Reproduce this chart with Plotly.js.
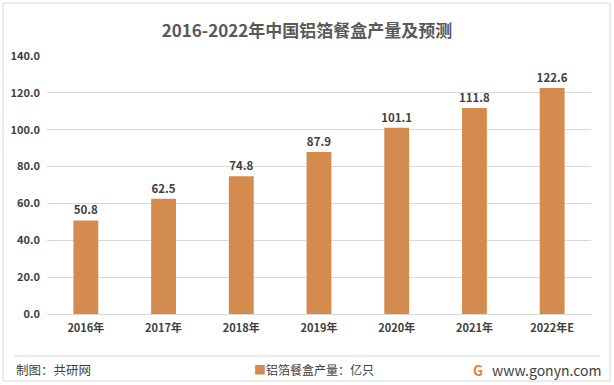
<!DOCTYPE html>
<html><head><meta charset="utf-8">
<script src="https://cdn.plot.ly/plotly-3.0.1.min.js"></script>
<style>html,body{margin:0;padding:0;background:#fff}#c{width:614px;height:385px}</style>
</head><body><div id="c"></div>
<script>
const categories = ["2016年","2017年","2018年","2019年","2020年","2021年","2022年E"];
const values = [50.8, 62.5, 74.8, 87.9, 101.1, 111.8, 122.6];
const seriesName = "铝箔餐盒产量：亿只";
const tickVals = [0,20,40,60,80,100,120,140];
const barColor = '#D48B4E';

const font = "'Microsoft YaHei','Noto Sans CJK SC','Noto Sans',sans-serif";
const trace = {
  type: 'bar', x: categories, y: values, name: seriesName,
  marker: {color: barColor}, width: 0.32,
  text: values.map(v => '<b>' + v.toFixed(1) + '</b>'), textposition: 'outside',
  constraintext: 'none',
  textfont: {family: font, size: 11.5, color: '#404040'},
  cliponaxis: false
};
const layout = {
  width: 614, height: 385,
  margin: {l: 47, r: 23, t: 56, b: 71, autoexpand: false},
  paper_bgcolor: '#fff', plot_bgcolor: '#fff',
  title: {text: '<b>2016-2022年中国铝箔餐盒产量及预测</b>', x: 0.5, xanchor: 'center', y: 0.92, yanchor: 'middle',
          font: {family: font, size: 17, color: '#595959'}},
  xaxis: {type: 'category', showgrid: false, showline: true, linecolor: '#d9d9d9', ticks: '',
          ticklabelstandoff: 4,
          tickfont: {family: font, size: 11, color: '#404040', weight: 'bold'}, fixedrange: true},
  yaxis: {range: [0, 140], tickvals: tickVals, ticktext: tickVals.map(v => v.toFixed(1)),
          showgrid: true, gridcolor: '#d9d9d9', zeroline: false, showline: false, ticks: '',
          ticklabelstandoff: 6, tickfont: {family: font, size: 11, color: '#404040', weight: 'bold'}, fixedrange: true},
  showlegend: false,
  shapes: [
    {type: 'rect', xref: 'paper', yref: 'paper', x0: -0.081, x1: 1.035, y0: -0.26, y1: 1.205, line: {color: '#d9d9d9', width: 1}, layer: 'below'},
    {type: 'line', xref: 'paper', yref: 'paper', x0: -0.0607, x1: 1.017, y0: -0.163, y1: -0.163, line: {color: '#d9d9d9', width: 1}}
  ],
  annotations: [
    {text: '<span style="color:' + barColor + '">■</span>' + seriesName, xref: 'paper', yref: 'paper', x: 0.3768, y: -0.217,
     xanchor: 'left', yanchor: 'middle', showarrow: false,
     font: {family: font, size: 12, color: '#404040'}},
    {text: '制图：共研网', xref: 'paper', yref: 'paper', x: -0.0607, y: -0.217, xanchor: 'left', yanchor: 'middle', showarrow: false,
     font: {family: font, size: 12.5, color: '#404040'}},
    {text: 'www.gonyn.com', xref: 'paper', yref: 'paper', x: 1.022, y: -0.217, xanchor: 'right', yanchor: 'middle', showarrow: false,
     font: {family: font, size: 14, color: '#404040'}},
    {text: '<b>G</b>', xref: 'paper', yref: 'paper', x: 0.805, y: -0.217, xanchor: 'right', yanchor: 'middle', showarrow: false,
     font: {family: font, size: 14, color: '#E8823A'}}
  ]
};
Plotly.newPlot('c', [trace], layout, {displayModeBar: false, staticPlot: true});
</script></body></html>
